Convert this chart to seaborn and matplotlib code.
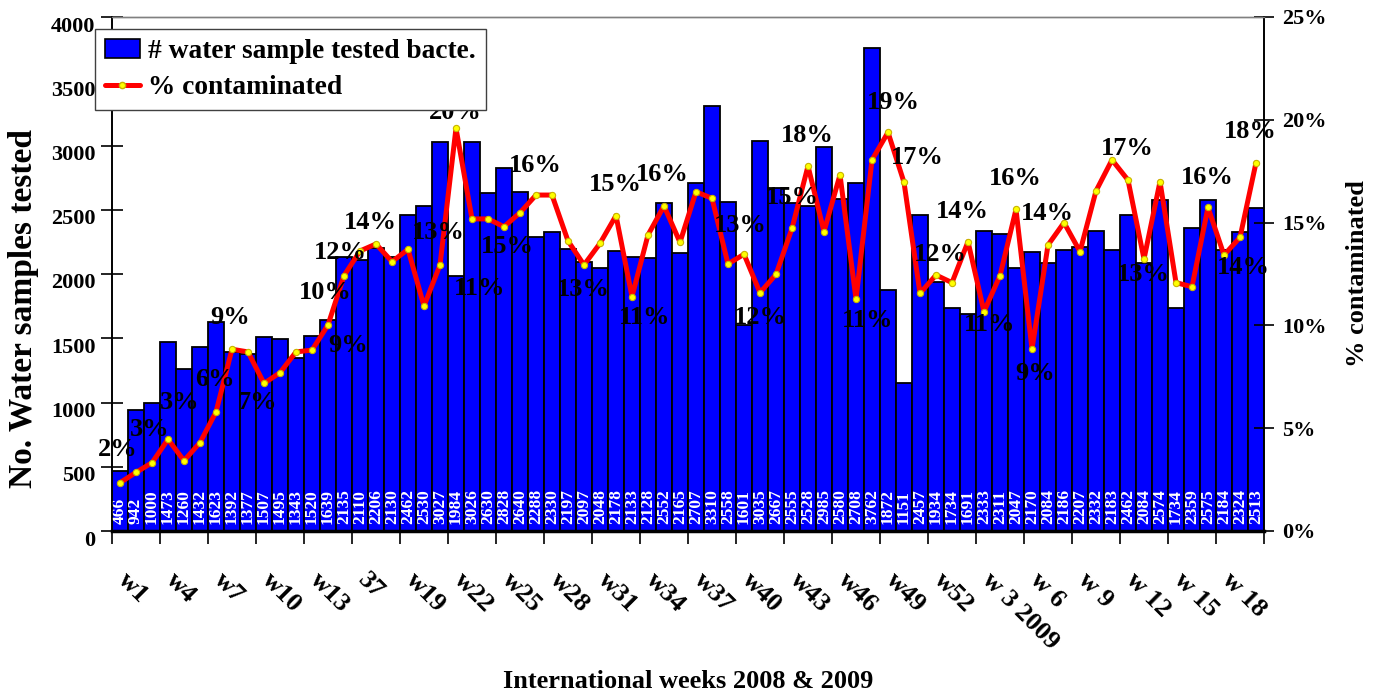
import numpy as np
import pandas as pd
import seaborn as sns
import matplotlib.pyplot as plt
from matplotlib.patches import Patch
from matplotlib.lines import Line2D
from matplotlib.transforms import ScaledTranslation

# --- data ---
weeks = [f"2008 w{k}" for k in range(1, 53)] + [f"2009 w{k}" for k in range(1, 21)]

samples = [466, 942, 1000, 1473, 1260, 1432, 1623, 1392, 1377, 1507, 1495, 1343,
           1520, 1639, 2135, 2110, 2206, 2130, 2462, 2530, 3027, 1984, 3026, 2630,
           2828, 2640, 2288, 2330, 2197, 2097, 2048, 2178, 2133, 2128, 2552, 2165,
           2707, 3310, 2558, 1601, 3035, 2667, 2555, 2528, 2985, 2580, 2708, 3762,
           1872, 1151, 2457, 1934, 1734, 1691, 2333, 2311, 2047, 2170, 2084, 2186,
           2207, 2332, 2183, 2462, 2084, 2574, 1734, 2359, 2575, 2184, 2324, 2513]

pct_contaminated = [2.35, 2.85, 3.32, 4.46, 3.42, 4.30, 5.79, 8.84, 8.71, 7.18, 7.70, 8.71,
                    8.80, 10.02, 12.42, 13.62, 13.96, 13.10, 13.70, 10.94, 12.94, 19.59, 15.18, 15.18,
                    14.80, 15.48, 16.34, 16.34, 14.11, 12.94, 13.99, 15.34, 11.40, 14.40, 15.81, 14.04,
                    16.50, 16.18, 12.99, 13.46, 11.59, 12.48, 14.72, 17.75, 14.56, 17.32, 11.28, 18.05,
                    19.39, 16.96, 11.56, 12.45, 12.08, 14.07, 10.67, 12.42, 15.64, 8.85, 13.91, 15.00,
                    13.59, 16.54, 18.05, 17.07, 13.23, 16.99, 12.08, 11.88, 15.74, 13.42, 14.28, 17.91]

tick_labels = ["w1", "w4", "w7", "w10", "w13", "37", "w19", "w22", "w25", "w28", "w31", "w34",
               "w37", "w40", "w43", "w46", "w49", "w52", "w 3 2009", "w 6", "w 9", "w 12", "w 15", "w 18"]

# points that carry a % label in the original
labelled_points = [0, 2, 4, 6, 7, 9, 12, 13, 14, 16, 19, 20, 21, 24, 26, 29, 31, 32, 34,
                   39, 40, 42, 43, 46, 48, 49, 51, 53, 54, 56, 57, 58, 63, 64, 68, 70, 71]

# label placement (pixels from the point), style only
LABEL_OFFSETS = {0: (-2, 33), 2: (-2, 33), 4: (-4, 58), 6: (-1, 32), 7: (-2, 32), 9: (-7, -19),
                 12: (36, 5), 13: (-3, 32), 14: (-4, 23), 16: (-6, 21), 19: (56, 18), 20: (-2, 32),
                 21: (-1, 16), 24: (3, -20), 26: (-1, 30), 29: (-1, -25), 31: (-1, 31), 32: (13, -21),
                 34: (-2, 31), 39: (-4, 29), 40: (0, -25), 42: (0, 31), 43: (-1, 31), 46: (12, -21),
                 48: (5, 30), 49: (13, 25), 51: (4, 21), 53: (-6, 30), 54: (6, -13), 56: (-1, 31),
                 57: (3, -24), 58: (-1, 32), 63: (-1, 32), 64: (-1, -16), 68: (-1, 30), 70: (3, -30),
                 71: (-6, 31)}

df = pd.DataFrame({"week": weeks, "samples": samples, "pct": pct_contaminated})
pos = np.arange(len(df))

sns.set_style("ticks")
plt.rcParams['font.family'] = ['Liberation Serif', 'DejaVu Serif']
plt.rcParams['font.weight'] = 'bold'
plt.rcParams['text.color'] = 'black'
plt.rcParams['axes.labelcolor'] = 'black'
plt.rcParams['xtick.color'] = 'black'
plt.rcParams['ytick.color'] = 'black'

fig = plt.figure(figsize=(13.78, 6.93), dpi=100)
W, H = 1378, 693
ax = fig.add_axes([112 / W, 1 - 531 / H, (1264 - 112) / W, (531 - 17) / H])

sns.barplot(data=df, x="week", y="samples", color="#0000FF", saturation=1,
            edgecolor="black", linewidth=1.3, width=1.0, ax=ax)

for i, v in enumerate(samples):
    ax.annotate(str(v), (i, 0), xytext=(0, 7), textcoords="offset pixels",
                rotation=90, ha="center", va="bottom", color="white",
                fontsize=12.5, fontweight="bold")

ax.set_xlim(-0.5, len(df) - 0.5)
ax.set_ylim(0, 4000)
ax.set_yticks(np.arange(0, 4001, 500))

ax2 = ax.twinx()
sns.lineplot(x=pos, y=df["pct"], ax=ax2, color="red", linewidth=3.6,
             marker="o", markersize=4.5, markerfacecolor="yellow",
             markeredgecolor="#c8b400", markeredgewidth=0.8)
ax2.set_ylim(0, 25)
ax2.set_yticks(np.arange(0, 26, 5))
ax2.set_yticklabels([f"{t}%" for t in range(0, 26, 5)])
ax2.set_ylabel("% contaminated", fontsize=19, fontweight="bold", labelpad=14)

for i in labelled_points:
    dx, dy = LABEL_OFFSETS[i]
    ax2.annotate(f"{round(pct_contaminated[i])}%", (i, pct_contaminated[i]),
                 xytext=(dx, dy), textcoords="offset pixels",
                 ha="center", va="center", fontsize=19, fontweight="bold", color="black")

# x axis: labels every third week, tick marks between groups
ax.set_xticks(pos[::3])
ax.set_xticklabels(tick_labels)
ax.set_xticks(np.arange(-0.5, len(df), 3), minor=True)
ax.tick_params(axis="x", which="major", length=0, pad=27, labelsize=19)
ax.tick_params(axis="x", which="minor", length=9, width=1.2, direction="out", color="black")
for lbl in ax.get_xticklabels():
    lbl.set_rotation(-45)
    lbl.set_ha("left")
    lbl.set_va("top")
    lbl.set_rotation_mode("anchor")
    lbl.set_transform(lbl.get_transform() + ScaledTranslation(10 / 100, 0, fig.dpi_scale_trans))

ax.tick_params(axis="y", direction="inout", length=16, width=1.2, pad=4, labelsize=16)
for lbl in ax.get_yticklabels():
    lbl.set_transform(lbl.get_transform() + ScaledTranslation(0, -7 / 100, fig.dpi_scale_trans))
ax2.tick_params(axis="y", direction="inout", length=14, width=1.2, pad=6, labelsize=16)

ax.set_xlabel("International weeks 2008 & 2009", fontsize=19, fontweight="bold", va="center")
ax.set_ylabel("No. Water samples tested", fontsize=24, fontweight="bold", va="center")
ax.xaxis.set_label_coords(0.5, -0.292)
ax.yaxis.set_label_coords(-0.077, 0.432)

for a in (ax, ax2):
    for s in a.spines.values():
        s.set_color("black")
        s.set_linewidth(1.2)
    a.spines["top"].set_color("#808080")
    a.spines["top"].set_linewidth(1)
ax.spines["bottom"].set_linewidth(2.5)

handles = [Patch(facecolor="#0000FF", edgecolor="black", linewidth=1.2),
           Line2D([], [], color="red", linewidth=3.6, marker="o", markersize=4.5,
                  markerfacecolor="yellow", markeredgecolor="#c8b400")]
leg = ax2.legend(handles, ["# water sample tested bacte.", "% contaminated"],
                 loc="upper left", bbox_to_anchor=(95 / W, 1 - 29 / H),
                 bbox_transform=fig.transFigure, borderaxespad=0,
                 fontsize=19.7, frameon=True, fancybox=False, framealpha=1,
                 edgecolor="#404040", handlelength=1.3, handletextpad=0.3,
                 labelspacing=0.42, borderpad=0.35)
leg.get_frame().set_linewidth(1)
leg.set_zorder(10)

fig.savefig("out.png", dpi=100)
